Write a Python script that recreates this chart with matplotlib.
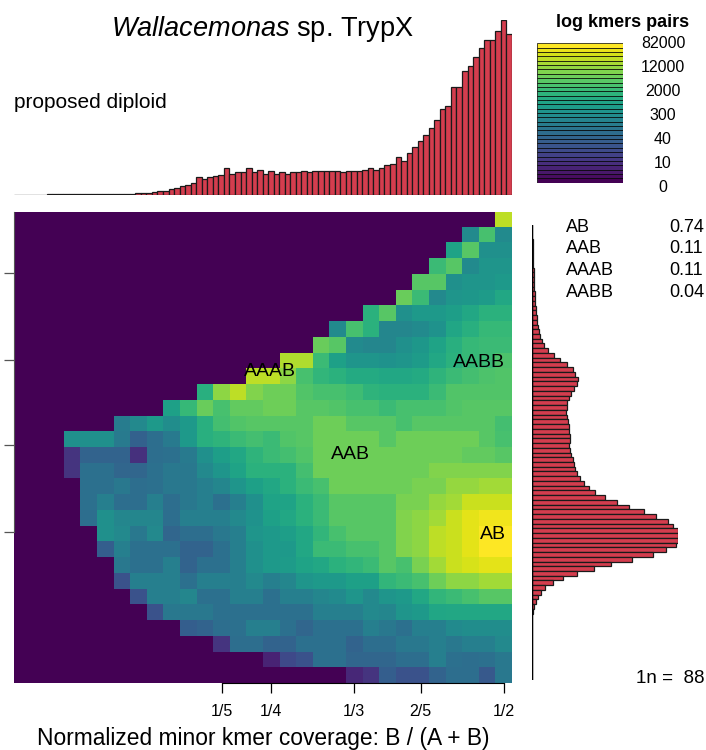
import numpy as np
import matplotlib
matplotlib.use("Agg")
import matplotlib.pyplot as plt

plt.rcParams['font.family'] = ['Liberation Sans', 'DejaVu Sans']
plt.rcParams['mathtext.fontset'] = 'custom'
plt.rcParams['mathtext.it'] = 'Liberation Sans:italic'
plt.rcParams['mathtext.rm'] = 'Liberation Sans'

# smudge cells, top row first, colour level on the log scale (0 = empty, 100 = max)
smudge_levels = [
    [0] * 29 + [90],
    [0] * 27 + [48, 71, 48],
    [0] * 26 + [58, 74, 50, 50],
    [0] * 25 + [68, 74, 48, 52, 52],
    [0] * 24 + [74, 74, 50, 52, 52, 54],
    [0] * 23 + [77, 68, 47, 52, 53, 55, 60],
    [0] * 21 + [64, 74, 50, 54, 54, 56, 60, 64, 64],
    [0] * 19 + [48, 71, 64, 46, 46, 48, 51, 59, 63, 67, 67],
    [0] * 18 + [77, 74, 48, 46, 46, 50, 53, 58, 63, 67, 68, 68],
    [0] * 16 + [88, 88, 68, 57, 52, 52, 51, 52, 55, 60, 64, 67, 68, 72],
    [0] * 14 + [90, 90, 83, 71, 66, 64, 61, 61, 60, 60, 61, 65, 68, 70, 72, 73],
    [0] * 11 + [63, 83, 90, 81, 78, 78, 73, 71, 71, 69, 65, 64, 64, 64, 68, 73, 73, 73, 73],
    [0] * 9 + [57, 67, 77, 71, 76, 76, 78, 78, 74, 74, 73, 71, 71, 68, 71, 71, 71, 73, 74, 74, 74],
    [0] * 6 + [42, 47, 54, 49, 54, 63, 70, 73, 74, 74, 74, 74, 78, 78, 74, 74, 74, 71, 74, 74, 74, 74, 74, 70],
    [0] * 3 + [50, 50, 50, 41, 31, 36, 41, 54, 63, 65, 68, 70, 68, 73, 74, 78, 78, 78, 78, 74, 78, 78, 78, 78, 78, 74, 71],
    [0] * 3 + [15, 32, 32, 32, 14, 36, 37, 41, 50, 56, 60, 65, 68, 70, 73, 78, 78, 78, 78, 78, 78, 78, 78, 78, 76, 76, 74],
    [0] * 3 + [15, 37, 37, 33, 33, 37, 40, 40, 47, 52, 58, 64, 64, 64, 70, 78, 78, 78, 78, 78, 78, 78, 81, 81, 81, 81, 81],
    [0] * 4 + [37, 37, 40, 36, 37, 40, 40, 43, 46, 52, 57, 60, 64, 68, 71, 78, 78, 78, 78, 78, 80, 80, 84, 84, 86, 86],
    [0] * 4 + [37, 43, 36, 36, 43, 36, 40, 43, 37, 43, 50, 58, 58, 64, 68, 74, 74, 74, 74, 80, 80, 84, 86, 92, 92, 92],
    [0] * 4 + [36, 50, 46, 46, 46, 36, 43, 43, 43, 47, 51, 57, 60, 64, 68, 74, 74, 74, 74, 81, 83, 86, 92, 96, 98, 98],
    [0] * 5 + [50, 47, 40, 47, 33, 36, 36, 40, 43, 52, 54, 56, 60, 66, 71, 74, 74, 74, 81, 83, 90, 92, 96, 100, 100],
    [0] * 5 + [30, 43, 37, 37, 37, 32, 32, 37, 43, 50, 54, 54, 60, 68, 68, 71, 71, 74, 81, 83, 90, 92, 96, 100, 100],
    [0] * 6 + [40, 37, 37, 43, 32, 37, 37, 43, 50, 54, 55, 58, 60, 64, 66, 68, 74, 71, 80, 86, 92, 94, 96, 96],
    [0] * 6 + [25, 43, 43, 43, 37, 43, 43, 43, 47, 43, 46, 52, 54, 54, 57, 57, 66, 68, 71, 78, 83, 83, 86, 86],
    [0] * 7 + [25, 43, 43, 46, 37, 37, 43, 43, 37, 43, 43, 46, 48, 52, 47, 52, 54, 60, 66, 68, 71, 74, 74],
    [0] * 8 + [25, 40, 40, 40, 37, 37, 37, 37, 37, 37, 43, 43, 43, 47, 46, 52, 54, 59, 60, 60, 60, 60],
    [0] * 10 + [30, 32, 36, 37, 43, 43, 37, 33, 37, 37, 37, 43, 40, 37, 43, 43, 48, 49, 49, 49],
    [0] * 12 + [15, 36, 36, 32, 32, 37, 37, 37, 32, 36, 36, 40, 40, 43, 40, 43, 43, 47],
    [0] * 15 + [10, 22, 25, 37, 37, 33, 33, 33, 36, 36, 43, 37, 36, 37, 40],
    [0] * 20 + [11, 15, 30, 25, 25, 32, 36, 36, 28, 40],
]

# histogram of minor kmer coverage (top)
minor_cov_hist = [1, 1, 1, 1, 1, 1, 2, 2, 2, 2, 2, 2, 2, 2, 2, 2, 3, 3, 3, 3, 3, 4, 5,
                  6, 5, 8, 11, 13, 18, 20, 27, 31, 37,
                  54, 47, 54, 58, 60, 81, 63, 67, 67, 81,
                  67, 74, 63, 71, 63, 69, 62, 68, 68, 70,
                  67, 70, 71, 71, 70, 72, 69, 71, 72, 72,
                  75, 81, 75, 80, 89, 91, 112, 102, 126, 142,
                  162, 180, 198, 224, 255, 264, 320, 322, 369, 385,
                  411, 437, 462, 462, 488, 522, 478]

# histogram of total coverage (right), top bar first
total_cov_hist = [1, 2, 2, 3, 3, 4, 4, 5, 5, 6, 6, 7, 7, 8, 9, 10, 11, 12, 13,
                  15, 17, 20, 22, 26, 32, 38, 50, 68, 85, 105,
                  123, 131, 138, 136, 127, 117, 113, 107, 105, 104,
                  107, 110, 111, 113, 114, 114, 113, 116, 119, 123,
                  127, 130, 136, 145, 156, 173, 190, 220, 256, 292,
                  336, 373, 410, 425, 438, 440, 438, 432, 403, 363,
                  302, 238, 186, 135, 95, 65, 40, 27, 20, 13,
                  7, 4, 2, 1, 1, 1, 1, 1, 1, 1, 1, 1, 1, 1, 1, 1]

x_tick_labels = ['1/5', '1/4', '1/3', '2/5', '1/2']
x_tick_cells = [12, 15, 20, 24, 29]
y_tick_rows = [9.58, 15.12, 20.57, 26.1]

smudge_names = ['AB', 'AAB', 'AAAB', 'AABB']
smudge_props = [0.74, 0.11, 0.11, 0.04]
smudge_label_xy = [(28.84, 9.17), (20.29, 14.27), (15.42, 19.52), (27.99, 20.09)]
n_estimate = 88

cbar_labels = ['0', '10', '40', '300', '2000', '12000', '82000']
n_colours = 32

bar_red = '#D43D4E'
W, H = 706, 750

fig = plt.figure(figsize=(W / 100, H / 100), dpi=100)


def box(x0, y0, x1, y1):
    return [x0 / W, 1 - y1 / H, (x1 - x0) / W, (y1 - y0) / H]


def ftext(x, y, s, **kw):
    fig.text(x / W, 1 - y / H, s, **kw)


# main smudge heatmap
ax = fig.add_axes(box(14, 211.7, 512, 682.7))
grid = np.array(smudge_levels) / 100
ax.imshow(grid, cmap='viridis', vmin=0, vmax=1, extent=(0, 30, 0, 30),
          aspect='auto', interpolation='nearest')
ax.set_xlim(0, 30)
ax.set_ylim(0, 30)
ax.spines['top'].set_visible(False)
ax.spines['right'].set_visible(False)
x_tick_pos = [c + 0.5 for c in x_tick_cells]
ax.spines['bottom'].set_bounds(x_tick_pos[0], x_tick_pos[-1])
ax.spines['left'].set_bounds(y_tick_rows[0], 30)
ax.spines['left'].set_color('#555555')
ax.set_xticks(x_tick_pos, x_tick_labels)
ax.set_yticks(y_tick_rows, [])
ax.tick_params(axis='both', direction='out', length=7, width=0.9)
ax.tick_params(axis='y', color='#555555')
ax.tick_params(axis='x', pad=8, labelsize=11.5)
for name, (tx, ty) in zip(smudge_names, smudge_label_xy):
    ax.text(tx, ty, name, ha='center', va='baseline', fontsize=14)

# top histogram
axt = fig.add_axes(box(13.5, 19.6, 511.8, 195))
axt.bar(np.arange(len(minor_cov_hist)), minor_cov_hist, width=1, align='edge',
        color=bar_red, edgecolor='#1a1a1a', linewidth=0.9)
axt.set_xlim(0, len(minor_cov_hist))
axt.set_ylim(0, max(minor_cov_hist))
axt.axis('off')

# right histogram
axr = fig.add_axes(box(531.7, 225, 678.3, 680))
nr = len(total_cov_hist)
axr.barh(nr - 1 - np.arange(nr), total_cov_hist, height=1, align='edge',
         color=bar_red, edgecolor='#1a1a1a', linewidth=0.9)
axr.plot([0, 0], [0, nr], color='black', lw=1)
axr.set_xlim(0, max(total_cov_hist))
axr.set_ylim(0, nr)
axr.axis('off')

# colour key
axc = fig.add_axes(box(537.3, 43.3, 622.7, 182.7))
cols = plt.get_cmap('viridis')(np.linspace(0, 1, n_colours))
axc.barh(np.arange(n_colours), [1] * n_colours, height=1, align='edge',
         color=cols, edgecolor='black', linewidth=0.5)
axc.set_xlim(0, 1)
axc.set_ylim(0, n_colours)
axc.axis('off')
ftext(622.5, 27, 'log kmers pairs', ha='center', va='baseline', fontsize=13, fontweight='bold')
for i, lab in enumerate(cbar_labels):
    ftext(663, 191.7 - 23.9 * i, lab, ha='center', va='baseline', fontsize=11.5)

# texts
ftext(262, 35.5, r'$\mathit{Wallacemonas}$ sp. TrypX', ha='center', va='baseline', fontsize=19.5)
ftext(13.5, 107.5, 'proposed diploid', ha='left', va='baseline', fontsize=15)
for i, (name, p) in enumerate(zip(smudge_names, smudge_props)):
    ftext(566, 231.7 + 21.7 * i, name, ha='left', va='baseline', fontsize=13)
    ftext(669, 231.7 + 21.7 * i, f'{p:.2f}', ha='left', va='baseline', fontsize=13)
ftext(705, 683, f'1n =  {n_estimate}', ha='right', va='baseline', fontsize=13.5)
ftext(263, 745, 'Normalized minor kmer coverage: B / (A + B)', ha='center', va='baseline', fontsize=16.4)

fig.savefig('out.png', dpi=100)
